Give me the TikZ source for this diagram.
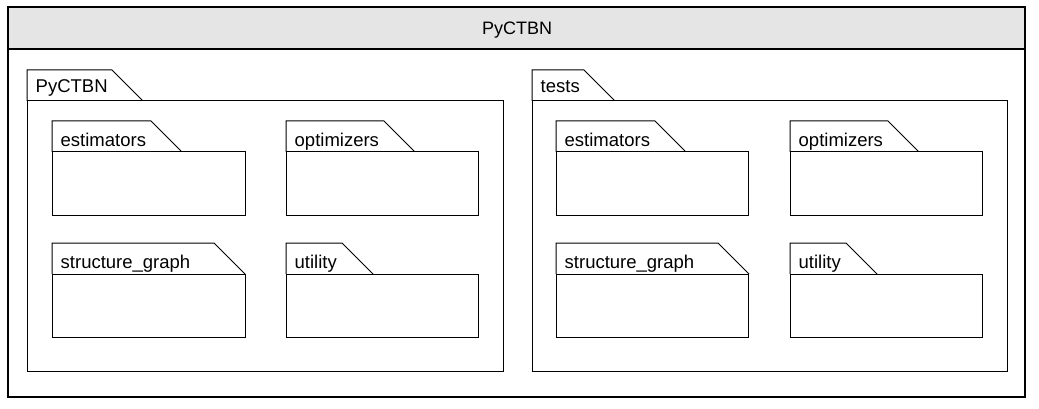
\documentclass[tikz,border=0pt]{standalone}
\usepackage{fontspec}
\setmainfont{Liberation Sans}
\tikzset{
  ln/.style={draw=black, line width=1pt},
  lbl/.style={anchor=base west, inner sep=0pt, font=\fontsize{18.5}{20}\selectfont},
  bodybox/.style={ln, fill=white}
}
% #1 name, #2 x left, #3 y top of tab, #4 x right, #5 y bottom, #6 tab corner x, #7 label, #8 baseline offset
\newcommand\umlfolder[8]{%
  \draw[ln] (#2,#3+31) -- (#2,#3) -- (#6,#3) -- (#6+31,#3+31);
  \draw[bodybox] (#2,#3+31) rectangle (#4,#5);
  \coordinate (#1-nw) at (#2,#3+31);
  \coordinate (#1-se) at (#4,#5);
  \node[lbl] (#1) at (#2+8.5,#3+#8) {#7};
}
\begin{document}
\begin{tikzpicture}[x=1pt,y=-1pt]
\useasboundingbox (0,0) rectangle (1039,409);
% outer frame
\draw[line width=1.3pt, fill=white] (8,7) rectangle (1025,397);
\draw[line width=1.3pt, fill=black!10] (8,7) rectangle (1025,49);
\node[anchor=base, inner sep=0pt, font=\fontsize{18}{20}\selectfont] (title) at (517,35) {PyCTBN};
% left package
\umlfolder{pkgA}{27}{70}{503}{371}{112}{PyCTBN}{22.5}
\umlfolder{aest}{52}{121}{245}{215}{151}{estimators}{25.5}
\umlfolder{aopt}{286}{121}{478}{215}{384}{optimizers}{25.5}
\umlfolder{astr}{52}{243}{245}{337}{214}{structure\_graph}{25}
\umlfolder{autl}{286}{243}{478}{337}{342}{utility}{25}
% right package
\umlfolder{pkgB}{532}{70}{1007}{371}{584}{tests}{22.5}
\umlfolder{best}{556}{121}{748}{215}{655}{estimators}{25.5}
\umlfolder{bopt}{790}{121}{982}{215}{888}{optimizers}{25.5}
\umlfolder{bstr}{556}{243}{748}{337}{718}{structure\_graph}{25}
\umlfolder{butl}{790}{243}{982}{337}{846}{utility}{25}
\end{tikzpicture}
\end{document}
